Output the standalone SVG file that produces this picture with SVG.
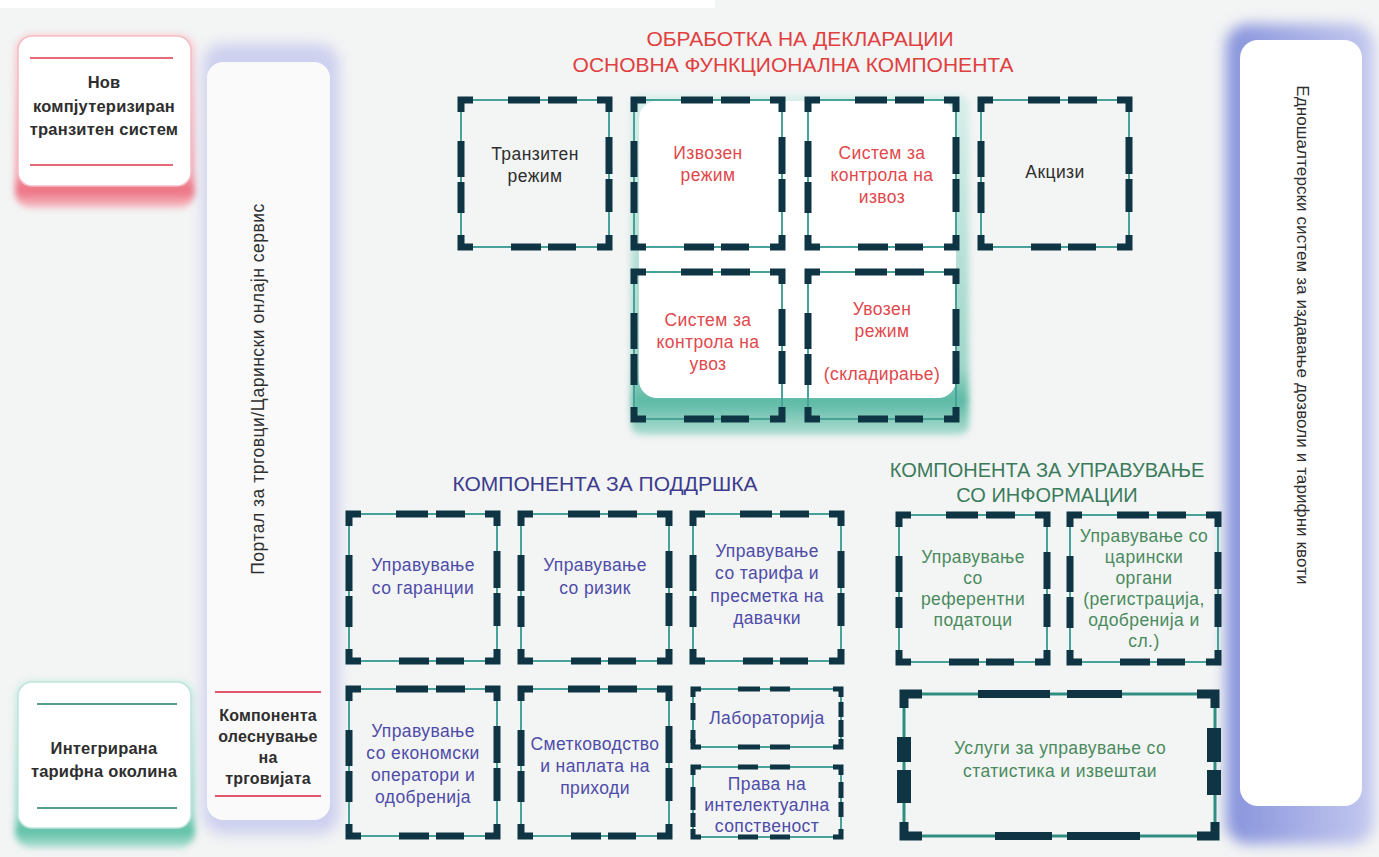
<svg xmlns="http://www.w3.org/2000/svg" width="1379" height="857" viewBox="0 0 1379 857">
<style>
.ln{fill:none;stroke:#47a39a;stroke-width:2}
.cr{fill:none;stroke:#0f3444;stroke-width:7;stroke-linejoin:miter}
.ds{fill:none;stroke:#0f3444;stroke-width:7}
.t{font-family:"Liberation Sans",Arial,sans-serif;font-size:17.5px;letter-spacing:0.4px;text-anchor:middle}
.red{fill:#e0484c}
.pur{fill:#4e4ca8}
.grn{fill:#4a8b5e}
.blk{fill:#2e2e2e;font-weight:700;font-size:16.5px;letter-spacing:0.2px}
.dk{fill:#2e2e2e}
.h{font-family:"Liberation Sans",Arial,sans-serif;font-size:21px;text-anchor:middle}
</style>
<defs>
<filter id="b3" x="-20%" y="-20%" width="140%" height="140%"><feGaussianBlur stdDeviation="3"/></filter>
<filter id="b7" x="-30%" y="-10%" width="160%" height="120%"><feGaussianBlur stdDeviation="7"/></filter>
<linearGradient id="gTeal" x1="0" y1="0" x2="0" y2="1">
<stop offset="0" stop-color="#d8efea"/><stop offset="0.8" stop-color="#9fd6c9"/><stop offset="0.9" stop-color="#5bb9a4"/><stop offset="1" stop-color="#b0ddd2"/>
</linearGradient>
<linearGradient id="gPink" x1="0" y1="0" x2="0" y2="1">
<stop offset="0" stop-color="#f7d3d9"/><stop offset="0.8" stop-color="#f2a4b0"/><stop offset="0.9" stop-color="#ec6f80"/><stop offset="1" stop-color="#f6c4cb"/>
</linearGradient>
<linearGradient id="gTeal2" x1="0" y1="0" x2="0" y2="1">
<stop offset="0" stop-color="#d3efe7"/><stop offset="0.8" stop-color="#9ad8c8"/><stop offset="0.9" stop-color="#5cc0a6"/><stop offset="1" stop-color="#b6e2d6"/>
</linearGradient>
<linearGradient id="gBlue" x1="0" y1="0" x2="1" y2="0">
<stop offset="0" stop-color="#8793dc"/><stop offset="1" stop-color="#c4c9ef"/>
</linearGradient>
<g id="bx">
<rect width="148" height="147" class="ln"/>
<path class="cr" d="M0,12V0H12M136,0H148V12M148,135V147H136M12,147H0V135"/>
<path class="ds" d="M47,0H79M87,0H116M50,147H80M87,147H115M0,41V77M0,82V113M148,37V74M148,79V112"/>
</g>
</defs>

<rect width="1379" height="857" fill="#f3f4f4"/>
<rect width="715" height="8" fill="#ffffff"/>

<!-- Left top -->
<g id="ncts">
<rect x="15" y="34" width="180" height="174" rx="16" fill="url(#gPink)" filter="url(#b3)"/>
<rect x="18" y="36" width="173" height="150" rx="14" fill="#ffffff" stroke="#f5bcc4" stroke-width="1.5"/>
<line x1="30" y1="58" x2="173" y2="58" stroke="#e56a78" stroke-width="2"/>
<line x1="30" y1="165" x2="173" y2="165" stroke="#e56a78" stroke-width="2"/>
<text class="t blk" x="104" y="88">Нов</text>
<text class="t blk" x="104" y="112">компјутеризиран</text>
<text class="t blk" x="104" y="135">транзитен систем</text>
</g>

<!-- Left bottom -->
<g id="itaric">
<rect x="15" y="680" width="180" height="168" rx="16" fill="url(#gTeal2)" filter="url(#b3)"/>
<rect x="18" y="682" width="173" height="146" rx="14" fill="#ffffff" stroke="#bfe5dc" stroke-width="1.5"/>
<line x1="37" y1="704" x2="177" y2="704" stroke="#5a9d8c" stroke-width="2"/>
<line x1="37" y1="808" x2="177" y2="808" stroke="#5a9d8c" stroke-width="2"/>
<text class="t blk" x="104" y="754">Интегрирана</text>
<text class="t blk" x="104" y="777">тарифна околина</text>
</g>

<!-- Portal -->
<g id="portal">
<rect x="203" y="44" width="136" height="790" rx="20" fill="#cdd0ef" filter="url(#b7)"/>
<rect x="207" y="62" width="123" height="758" rx="16" fill="#fafafa"/>
<text class="t dk" transform="translate(264,389) rotate(-90)" style="font-size:17.5px;letter-spacing:0.5px">Портал за трговци/Царински онлајн сервис</text>
<line x1="215" y1="692" x2="321" y2="692" stroke="#e0566a" stroke-width="2"/>
<line x1="215" y1="796" x2="321" y2="796" stroke="#e0566a" stroke-width="2"/>
<text class="t blk" x="268" y="721" style="font-size:16px">Компонента</text>
<text class="t blk" x="268" y="742" style="font-size:16px">олеснување</text>
<text class="t blk" x="268" y="763" style="font-size:16px">на</text>
<text class="t blk" x="268" y="784" style="font-size:16px">трговијата</text>
</g>

<!-- Right -->
<g id="single-window">
<rect x="1226" y="24" width="148" height="820" rx="22" fill="url(#gBlue)" filter="url(#b7)"/>
<rect x="1240" y="40" width="122" height="766" rx="18" fill="#ffffff"/>
<text class="t dk" transform="translate(1297,335) rotate(90)" style="font-size:17px;letter-spacing:0.1px">Едношалтерски систем за издавање дозволи и тарифни квоти</text>
</g>

<!-- Declaration heading -->
<g id="decl-heading">
<text class="h" fill="#e0403f" x="800" y="46">ОБРАБОТКА НА ДЕКЛАРАЦИИ</text>
<text class="h" fill="#e0403f" x="793" y="72">ОСНОВНА ФУНКЦИОНАЛНА КОМПОНЕНТА</text>
</g>

<!-- Green panel -->
<g id="decl-panel">
<rect x="631" y="95" width="338" height="340" rx="10" fill="url(#gTeal)" filter="url(#b3)"/>
<rect x="639" y="101" width="317" height="297" rx="18" fill="#ffffff"/>
</g>

<g id="transit">
<use href="#bx" x="461" y="100"/>
<text class="t dk" x="535" y="160">Транзитен</text>
<text class="t dk" x="535" y="182">режим</text>
</g>
<g id="export">
<use href="#bx" x="634" y="100"/>
<text class="t red" x="708" y="159">Извозен</text>
<text class="t red" x="708" y="181">режим</text>
</g>
<g id="export-control">
<use href="#bx" x="808" y="100"/>
<text class="t red" x="882" y="159">Систем за</text>
<text class="t red" x="882" y="181">контрола на</text>
<text class="t red" x="882" y="203">извоз</text>
</g>
<g id="excise">
<use href="#bx" x="981" y="100"/>
<text class="t dk" x="1055" y="178">Акцизи</text>
</g>
<g id="import-control">
<use href="#bx" x="634" y="272"/>
<text class="t red" x="708" y="326">Систем за</text>
<text class="t red" x="708" y="348">контрола на</text>
<text class="t red" x="708" y="370">увоз</text>
</g>
<g id="import">
<use href="#bx" x="808" y="272"/>
<text class="t red" x="882" y="315">Увозен</text>
<text class="t red" x="882" y="337">режим</text>
<text class="t red" x="882" y="380">(складирање)</text>
</g>

<!-- Support -->
<g id="support-heading">
<text class="h" fill="#3d3c8e" x="605" y="491">КОМПОНЕНТА ЗА ПОДДРШКА</text>
</g>
<g id="guarantees">
<use href="#bx" x="349" y="514"/>
<text class="t pur" x="423" y="571">Управување</text>
<text class="t pur" x="423" y="594">со гаранции</text>
</g>
<g id="risk">
<use href="#bx" x="521" y="514"/>
<text class="t pur" x="595" y="571">Управување</text>
<text class="t pur" x="595" y="594">со ризик</text>
</g>
<g id="tariff">
<use href="#bx" x="693" y="514"/>
<text class="t pur" x="767" y="557">Управување</text>
<text class="t pur" x="767" y="579">со тарифа и</text>
<text class="t pur" x="767" y="602">пресметка на</text>
<text class="t pur" x="767" y="624">давачки</text>
</g>
<g id="operators">
<use href="#bx" x="349" y="689"/>
<text class="t pur" x="423" y="737">Управување</text>
<text class="t pur" x="423" y="759">со економски</text>
<text class="t pur" x="423" y="781">оператори и</text>
<text class="t pur" x="423" y="803">одобренија</text>
</g>
<g id="accounting">
<use href="#bx" x="521" y="689"/>
<text class="t pur" x="595" y="750">Сметководство</text>
<text class="t pur" x="595" y="772">и наплата на</text>
<text class="t pur" x="595" y="794">приходи</text>
</g>
<g id="laboratory">
<rect x="693" y="689" width="148" height="58" class="ln"/>
<path class="cr" style="stroke-width:5" d="M693,697V689H701M833,689H841V697M841,739V747H833M701,747H693V739"/>
<path class="ds" style="stroke-width:5" d="M738,689H760M770,689H790M738,747H760M770,747H790M693,703V720M693,730V743M841,702V717M841,720V737"/>
<text class="t pur" x="767" y="724">Лабораторија</text>
</g>
<g id="ipr">
<rect x="693" y="767" width="148" height="70" class="ln"/>
<path class="cr" style="stroke-width:5" d="M693,775V767H701M833,767H841V775M841,829V837H833M701,837H693V829"/>
<path class="ds" style="stroke-width:5" d="M738,767H758M770,767H790M738,837H758M770,837H790M693,787V810M693,813V827M841,782V798M841,802V817"/>
<text class="t pur" x="767" y="790">Права на</text>
<text class="t pur" x="767" y="811">интелектуална</text>
<text class="t pur" x="767" y="832">сопственост</text>
</g>

<!-- Information -->
<g id="info-heading">
<text class="h" fill="#3b7b5b" x="1047" y="477" style="font-size:20px">КОМПОНЕНТА ЗА УПРАВУВАЊЕ</text>
<text class="h" fill="#3b7b5b" x="1047" y="502" style="font-size:20px">СО ИНФОРМАЦИИ</text>
</g>
<g id="reference-data">
<use href="#bx" x="899" y="515"/>
<text class="t grn" x="973" y="563">Управување</text>
<text class="t grn" x="973" y="584">со</text>
<text class="t grn" x="973" y="605">референтни</text>
<text class="t grn" x="973" y="626">податоци</text>
</g>
<g id="customs-authorities">
<use href="#bx" x="1070" y="515"/>
<text class="t grn" x="1144" y="542">Управување со</text>
<text class="t grn" x="1144" y="563">царински</text>
<text class="t grn" x="1144" y="584">органи</text>
<text class="t grn" x="1144" y="605">(регистрација,</text>
<text class="t grn" x="1144" y="626">одобренија и</text>
<text class="t grn" x="1144" y="647">сл.)</text>
</g>
<g id="statistics">
<rect x="904" y="694" width="311" height="142" fill="none" stroke="#2f8e80" stroke-width="3"/>
<path class="cr" style="stroke-width:9" d="M904,708V694H922M1197,694H1215V708M1215,822V836H1197M922,836H904V822"/>
<path class="ds" style="stroke-width:8" d="M978,694H1050M1067,694H1122M995,836H1052M1067,836H1140"/>
<path class="ds" style="stroke-width:14" d="M904,737V762M904,770V803M1214,728V762M1214,770V795"/>
<text class="t grn" x="1060" y="754">Услуги за управување со</text>
<text class="t grn" x="1060" y="777">статистика и извештаи</text>
</g>
</svg>
